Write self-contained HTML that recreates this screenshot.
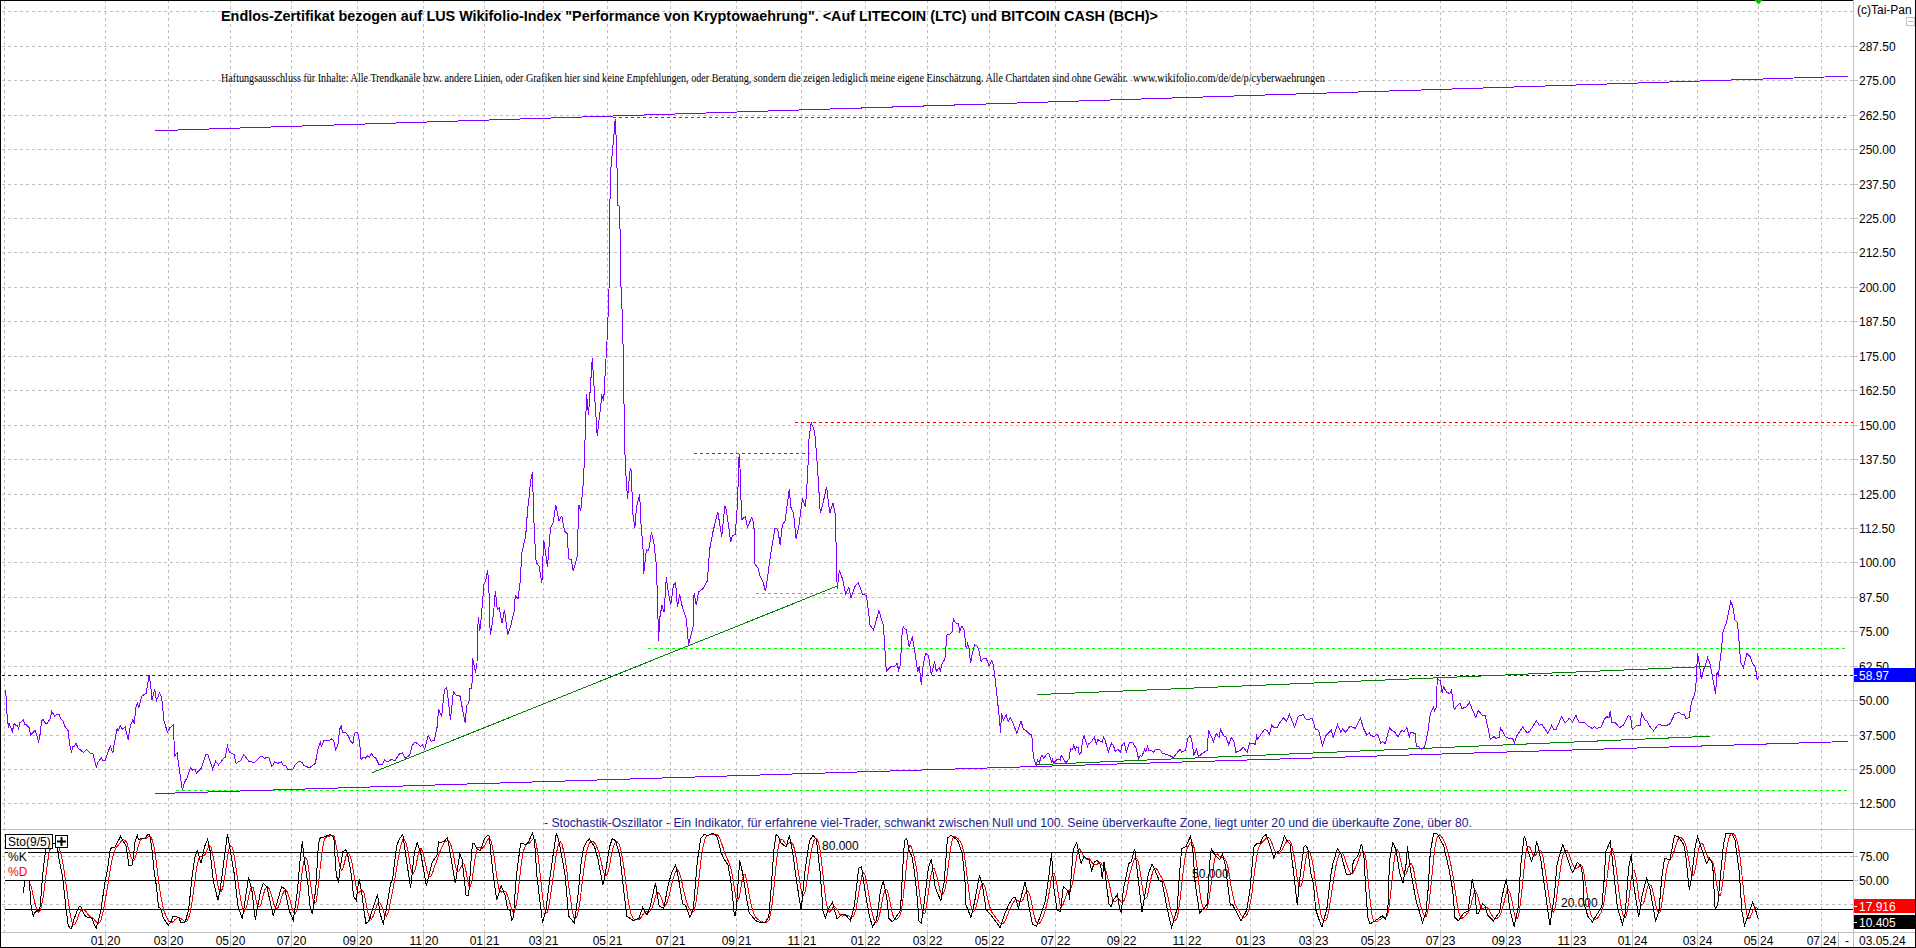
<!DOCTYPE html>
<html><head><meta charset="utf-8"><style>html,body{margin:0;padding:0;background:#fff;overflow:hidden;width:1916px;height:948px}svg{display:block}</style></head>
<body><svg width="1916" height="948" viewBox="0 0 1916 948"><rect x="0" y="0" width="1916" height="948" fill="#fff"/><g stroke="#c0c0c0" stroke-width="1" stroke-dasharray="3 3" shape-rendering="crispEdges"><line x1="4.5" y1="0" x2="4.5" y2="932" /><line x1="105.5" y1="0" x2="105.5" y2="932" /><line x1="168.5" y1="0" x2="168.5" y2="932" /><line x1="230.5" y1="0" x2="230.5" y2="932" /><line x1="291.5" y1="0" x2="291.5" y2="932" /><line x1="357.5" y1="0" x2="357.5" y2="932" /><line x1="423.5" y1="0" x2="423.5" y2="932" /><line x1="484.5" y1="0" x2="484.5" y2="932" /><line x1="543.5" y1="0" x2="543.5" y2="932" /><line x1="607.5" y1="0" x2="607.5" y2="932" /><line x1="670.5" y1="0" x2="670.5" y2="932" /><line x1="736.5" y1="0" x2="736.5" y2="932" /><line x1="801.5" y1="0" x2="801.5" y2="932" /><line x1="865.5" y1="0" x2="865.5" y2="932" /><line x1="927.5" y1="0" x2="927.5" y2="932" /><line x1="989.5" y1="0" x2="989.5" y2="932" /><line x1="1055.5" y1="0" x2="1055.5" y2="932" /><line x1="1121.5" y1="0" x2="1121.5" y2="932" /><line x1="1186.5" y1="0" x2="1186.5" y2="932" /><line x1="1250.5" y1="0" x2="1250.5" y2="932" /><line x1="1313.5" y1="0" x2="1313.5" y2="932" /><line x1="1375.5" y1="0" x2="1375.5" y2="932" /><line x1="1440.5" y1="0" x2="1440.5" y2="932" /><line x1="1506.5" y1="0" x2="1506.5" y2="932" /><line x1="1571.5" y1="0" x2="1571.5" y2="932" /><line x1="1632.5" y1="0" x2="1632.5" y2="932" /><line x1="1697.5" y1="0" x2="1697.5" y2="932" /><line x1="1758.5" y1="0" x2="1758.5" y2="932" /><line x1="1821.5" y1="0" x2="1821.5" y2="932" /><line x1="2" y1="803.5" x2="1853" y2="803.5" /><line x1="2" y1="769.5" x2="1853" y2="769.5" /><line x1="2" y1="735.5" x2="1853" y2="735.5" /><line x1="2" y1="700.5" x2="1853" y2="700.5" /><line x1="2" y1="666.5" x2="1853" y2="666.5" /><line x1="2" y1="631.5" x2="1853" y2="631.5" /><line x1="2" y1="597.5" x2="1853" y2="597.5" /><line x1="2" y1="562.5" x2="1853" y2="562.5" /><line x1="2" y1="528.5" x2="1853" y2="528.5" /><line x1="2" y1="494.5" x2="1853" y2="494.5" /><line x1="2" y1="459.5" x2="1853" y2="459.5" /><line x1="2" y1="425.5" x2="1853" y2="425.5" /><line x1="2" y1="390.5" x2="1853" y2="390.5" /><line x1="2" y1="356.5" x2="1853" y2="356.5" /><line x1="2" y1="321.5" x2="1853" y2="321.5" /><line x1="2" y1="287.5" x2="1853" y2="287.5" /><line x1="2" y1="252.5" x2="1853" y2="252.5" /><line x1="2" y1="218.5" x2="1853" y2="218.5" /><line x1="2" y1="184.5" x2="1853" y2="184.5" /><line x1="2" y1="149.5" x2="1853" y2="149.5" /><line x1="2" y1="115.5" x2="1853" y2="115.5" /><line x1="2" y1="80.5" x2="1853" y2="80.5" /><line x1="2" y1="46.5" x2="1853" y2="46.5" /><line x1="2" y1="11.5" x2="1853" y2="11.5" /><line x1="2" y1="856.5" x2="1853" y2="856.5" /><line x1="2" y1="904.5" x2="1853" y2="904.5" /></g><g stroke="#c0c0c0" stroke-width="1" shape-rendering="crispEdges"><line x1="1853" y1="803.5" x2="1858" y2="803.5"/><line x1="1853" y1="769.5" x2="1858" y2="769.5"/><line x1="1853" y1="735.5" x2="1858" y2="735.5"/><line x1="1853" y1="700.5" x2="1858" y2="700.5"/><line x1="1853" y1="666.5" x2="1858" y2="666.5"/><line x1="1853" y1="631.5" x2="1858" y2="631.5"/><line x1="1853" y1="597.5" x2="1858" y2="597.5"/><line x1="1853" y1="562.5" x2="1858" y2="562.5"/><line x1="1853" y1="528.5" x2="1858" y2="528.5"/><line x1="1853" y1="494.5" x2="1858" y2="494.5"/><line x1="1853" y1="459.5" x2="1858" y2="459.5"/><line x1="1853" y1="425.5" x2="1858" y2="425.5"/><line x1="1853" y1="390.5" x2="1858" y2="390.5"/><line x1="1853" y1="356.5" x2="1858" y2="356.5"/><line x1="1853" y1="321.5" x2="1858" y2="321.5"/><line x1="1853" y1="287.5" x2="1858" y2="287.5"/><line x1="1853" y1="252.5" x2="1858" y2="252.5"/><line x1="1853" y1="218.5" x2="1858" y2="218.5"/><line x1="1853" y1="184.5" x2="1858" y2="184.5"/><line x1="1853" y1="149.5" x2="1858" y2="149.5"/><line x1="1853" y1="115.5" x2="1858" y2="115.5"/><line x1="1853" y1="80.5" x2="1858" y2="80.5"/><line x1="1853" y1="46.5" x2="1858" y2="46.5"/><line x1="1853" y1="856.5" x2="1858" y2="856.5"/><line x1="1853" y1="880.5" x2="1858" y2="880.5"/><line x1="1853" y1="904.5" x2="1858" y2="904.5"/></g><g stroke="#000" stroke-width="1" shape-rendering="crispEdges"><line x1="5" y1="852.5" x2="1853" y2="852.5"/><line x1="5" y1="880.5" x2="1853" y2="880.5"/><line x1="5" y1="909.5" x2="1853" y2="909.5"/></g><g stroke="#c0c0c0" stroke-width="1" shape-rendering="crispEdges"><line x1="1853.5" y1="0" x2="1853.5" y2="948"/><line x1="0" y1="829.5" x2="1916" y2="829.5"/><line x1="0" y1="932.5" x2="1916" y2="932.5"/><line x1="105.5" y1="932" x2="105.5" y2="947"/><line x1="168.5" y1="932" x2="168.5" y2="947"/><line x1="230.5" y1="932" x2="230.5" y2="947"/><line x1="291.5" y1="932" x2="291.5" y2="947"/><line x1="357.5" y1="932" x2="357.5" y2="947"/><line x1="423.5" y1="932" x2="423.5" y2="947"/><line x1="484.5" y1="932" x2="484.5" y2="947"/><line x1="543.5" y1="932" x2="543.5" y2="947"/><line x1="607.5" y1="932" x2="607.5" y2="947"/><line x1="670.5" y1="932" x2="670.5" y2="947"/><line x1="736.5" y1="932" x2="736.5" y2="947"/><line x1="801.5" y1="932" x2="801.5" y2="947"/><line x1="865.5" y1="932" x2="865.5" y2="947"/><line x1="927.5" y1="932" x2="927.5" y2="947"/><line x1="989.5" y1="932" x2="989.5" y2="947"/><line x1="1055.5" y1="932" x2="1055.5" y2="947"/><line x1="1121.5" y1="932" x2="1121.5" y2="947"/><line x1="1186.5" y1="932" x2="1186.5" y2="947"/><line x1="1250.5" y1="932" x2="1250.5" y2="947"/><line x1="1313.5" y1="932" x2="1313.5" y2="947"/><line x1="1375.5" y1="932" x2="1375.5" y2="947"/><line x1="1440.5" y1="932" x2="1440.5" y2="947"/><line x1="1506.5" y1="932" x2="1506.5" y2="947"/><line x1="1571.5" y1="932" x2="1571.5" y2="947"/><line x1="1632.5" y1="932" x2="1632.5" y2="947"/><line x1="1697.5" y1="932" x2="1697.5" y2="947"/><line x1="1758.5" y1="932" x2="1758.5" y2="947"/><line x1="1821.5" y1="932" x2="1821.5" y2="947"/><line x1="1838.5" y1="932" x2="1838.5" y2="947"/><rect x="1906.5" y="17.5" width="8" height="8" fill="none"/><line x1="1908" y1="21.5" x2="1913" y2="21.5"/></g><g stroke="#000" stroke-width="1" shape-rendering="crispEdges"><line x1="0" y1="0.5" x2="1853" y2="0.5"/><line x1="0.5" y1="0" x2="0.5" y2="948"/><line x1="1915.5" y1="0" x2="1915.5" y2="948"/><line x1="0" y1="947.5" x2="1916" y2="947.5"/></g><line x1="2" y1="675.5" x2="1853" y2="675.5" stroke="#0000ff" stroke-width="1" stroke-dasharray="3 3" shape-rendering="crispEdges"/><line x1="613" y1="117.5" x2="1846" y2="117.5" stroke="#ff0000" stroke-width="1" stroke-dasharray="3 3" shape-rendering="crispEdges"/><line x1="795" y1="422.5" x2="1853" y2="422.5" stroke="#ff0000" stroke-width="1" stroke-dasharray="3 3" shape-rendering="crispEdges"/><line x1="694" y1="453.5" x2="810" y2="453.5" stroke="#ff0000" stroke-width="1" stroke-dasharray="3 3" shape-rendering="crispEdges"/><line x1="648" y1="648.5" x2="1846" y2="648.5" stroke="#00ff00" stroke-width="1" stroke-dasharray="3 3" shape-rendering="crispEdges"/><line x1="176" y1="790.5" x2="1848" y2="790.5" stroke="#00ff00" stroke-width="1" stroke-dasharray="3 3" shape-rendering="crispEdges"/><line x1="756" y1="593.5" x2="867" y2="593.5" stroke="#00ff00" stroke-width="1" stroke-dasharray="3 3" shape-rendering="crispEdges"/><line x1="155" y1="130.75" x2="1848" y2="76.25" stroke="#8000ff" stroke-width="1" shape-rendering="crispEdges"/><line x1="155" y1="793.63" x2="1848" y2="741.5" stroke="#8000ff" stroke-width="1" shape-rendering="crispEdges"/><line x1="372.4" y1="772.6" x2="837.8" y2="585.8" stroke="#008000" stroke-width="1" shape-rendering="crispEdges"/><line x1="1037" y1="694.6" x2="1710" y2="666.4" stroke="#008000" stroke-width="1" shape-rendering="crispEdges"/><line x1="1037" y1="764.66" x2="1710" y2="736.26" stroke="#008000" stroke-width="1" shape-rendering="crispEdges"/><polyline points="5.2,689.9 6.2,697.5 6.6,708.9 7.6,720.8 8.4,727.5 9.0,723.2 12.3,731.3 14.2,723.7 15.7,725.1 17.6,725.1 18.5,729.4 19.9,722.7 23.3,719.9 24.7,724.6 26.1,724.6 29.4,727.9 30.4,735.1 35.1,730.3 36.6,734.1 38.5,742.6 39.9,735.5 40.8,727.5 41.8,720.8 43.2,719.4 45.6,723.4 47.5,723.2 50.3,718.4 51.8,711.3 54.6,716.1 57.0,714.2 59.4,714.6 60.3,718.4 62.7,720.3 64.6,726.0 67.4,729.4 68.4,731.3 69.3,743.1 71.7,752.6 72.4,746.0 74.5,746.0 76.0,743.1 78.3,748.3 83.6,752.6 86.4,749.3 90.2,753.1 93.0,753.8 96.2,767.1 98.1,761.9 101.5,757.5 102.6,760.4 105.5,760.1 107.7,752.3 110.4,746.4 112.9,753.1 114.4,742.7 117.3,727.9 118.1,730.9 120.3,725.7 122.5,729.4 125.2,727.2 128.1,739.8 130.6,725.0 132.8,719.8 134.3,723.5 135.8,708.0 137.6,702.8 138.7,708.0 141.7,696.2 143.9,694.7 146.1,693.2 146.9,688.8 149.1,675.5 150.6,685.1 152.0,699.9 154.7,689.5 156.5,700.6 159.4,693.2 161.6,696.9 163.9,720.6 167.5,732.4 169.8,727.9 173.5,724.3 174.5,756.0 177.1,753.1 179.4,769.3 182.3,790.0 184.5,782.6 187.5,776.7 190.4,767.8 192.7,770.0 194.9,769.3 196.4,773.0 201.5,767.8 206.0,753.8 208.2,755.3 212.6,769.3 215.6,761.2 218.5,764.9 223.7,758.2 225.2,757.5 227.4,745.7 229.6,752.3 234.0,754.5 236.2,763.4 240.7,760.4 243.6,754.5 248.8,761.2 254.0,762.7 261.3,756.0 264.3,758.2 268.7,757.5 272.0,766.4 274.6,761.9 277.6,763.4 281.3,761.9 283.5,765.6 285.7,765.6 287.9,769.3 293.1,769.2 294.6,765.6 299.0,761.1 302.0,762.6 304.2,765.6 309.4,767.8 315.3,763.3 318.2,747.8 320.5,741.9 321.2,746.4 324.1,740.4 329.3,740.4 331.5,739.0 333.7,740.4 335.5,750.0 337.9,744.9 339.7,729.4 341.1,725.4 342.6,732.3 345.6,732.3 348.5,736.0 350.0,740.4 352.9,743.4 354.4,733.1 357.7,732.8 359.6,741.9 361.1,759.6 363.3,757.4 365.5,758.2 367.7,756.0 369.2,757.4 371.4,753.7 373.6,756.7 375.8,758.2 378.8,764.1 382.5,764.1 384.7,759.6 386.9,761.9 391.4,759.6 395.0,760.4 399.5,753.7 402.4,753.0 405.4,758.2 409.8,755.2 412.0,745.6 415.0,741.9 418.0,744.1 420.2,746.4 422.4,744.9 424.6,749.3 428.3,735.3 431.2,741.2 434.2,740.4 437.1,727.1 438.6,709.4 441.6,716.8 444.5,689.5 446.7,687.3 448.2,699.1 450.4,719.8 453.4,691.7 456.3,695.4 460.0,696.1 462.3,707.9 465.2,722.7 466.7,705.0 468.9,703.5 469.6,688.7 471.9,688.0 472.6,657.7 475.5,672.5 477.0,663.6 477.3,639.3 478.3,617.5 479.8,630.8 481.1,619.4 483.0,596.6 484.0,584.3 485.9,579.5 487.4,570.1 488.7,581.4 490.2,634.6 491.6,628.9 493.5,613.7 495.4,590.9 497.3,609.9 499.2,608.0 502.0,623.2 504.5,609.9 507.7,634.6 510.5,627.0 514.0,611.8 515.3,595.7 518.1,598.5 520.0,583.3 521.9,553.0 522.9,548.2 525.7,535.9 527.6,509.3 529.5,494.2 530.5,480.9 532.4,472.3 534.3,532.1 536.2,562.5 539.0,566.3 541.9,583.3 543.7,539.7 547.5,567.2 550.4,528.3 553.2,522.6 555.7,504.6 558.9,520.7 561.8,516.0 564.6,531.2 567.5,534.0 568.4,558.7 571.3,559.6 573.2,571.0 577.0,557.7 578.9,504.6 580.7,511.2 583.6,479.9 586.6,394.3 588.5,415.2 592.3,358.3 597.2,436.1 601.8,396.2 603.7,400.0 607.5,331.7 609.0,290.0 609.5,241.1 610.3,174.6 611.4,163.2 612.2,153.7 613.3,142.3 614.7,126.2 615.2,118.6 616.0,134.7 617.1,170.8 617.5,205.0 619.0,206.0 619.4,224.0 620.4,232.6 620.9,284.8 622.7,324.1 624.6,440.0 625.3,465.5 627.5,498.8 629.8,472.2 630.9,467.7 633.1,516.5 634.9,527.6 636.4,507.6 639.7,494.3 640.8,521.0 643.1,549.8 643.7,574.2 646.4,549.8 648.6,550.9 651.5,532.0 654.2,545.3 656.4,565.3 657.5,600.8 658.6,640.7 659.7,618.5 661.9,605.2 664.1,611.9 666.3,577.5 668.6,594.1 670.8,605.2 673.4,585.3 675.7,583.0 677.4,607.4 679.6,594.1 681.9,605.2 686.3,618.5 688.5,645.1 693.0,627.4 694.1,593.0 696.3,605.2 698.5,591.9 702.9,588.6 707.4,580.8 709.6,549.8 712.9,532.0 717.8,512.1 721.8,536.5 724.8,506.0 726.4,510.2 730.7,541.9 732.3,535.5 735.3,534.5 737.4,504.9 739.1,454.3 740.2,471.2 741.6,519.7 745.4,516.5 747.5,527.1 751.8,517.6 753.9,523.9 754.9,564.0 758.1,568.2 760.2,576.7 763.4,583.0 765.5,591.4 767.6,576.7 770.7,553.5 775.0,528.1 777.7,529.2 780.2,545.0 782.3,525.0 785.1,520.8 789.3,489.1 790.8,507.0 793.5,513.4 796.1,538.7 799.2,523.9 802.4,498.6 805.5,507.0 807.7,473.3 809.1,437.4 811.2,422.7 814.6,431.1 817.2,462.7 820.3,513.4 823.5,500.7 826.6,487.0 829.8,513.4 833.0,502.8 835.1,513.4 836.1,545.0 837.2,589.3 839.3,570.3 842.5,578.8 845.6,593.5 848.8,587.2 850.9,597.8 855.1,586.2 858.3,582.7 862.7,594.5 866.5,595.4 870.1,625.5 873.6,629.9 878.9,610.7 883.4,625.5 886.3,671.3 890.7,666.8 895.0,666.3 897.1,663.4 898.6,670.2 900.0,666.3 901.0,653.4 901.8,636.3 903.3,626.4 904.3,628.5 906.4,629.9 909.2,647.0 911.4,639.2 912.4,637.5 914.9,652.0 917.8,672.0 919.2,666.3 921.4,684.8 922.8,667.7 925.6,653.4 928.5,655.6 931.3,674.8 934.6,661.3 936.3,671.2 939.2,667.7 940.3,670.5 942.0,664.1 944.9,659.1 947.0,634.9 949.1,634.9 952.0,632.1 953.4,618.5 955.5,622.8 958.4,623.5 959.8,631.4 962.0,625.7 964.1,629.9 966.2,648.4 967.6,643.5 969.1,648.4 970.5,663.4 972.6,652.0 974.8,644.9 976.9,645.6 979.0,650.6 981.2,662.0 982.6,659.1 986.2,658.4 989.0,665.5 991.9,660.6 993.3,664.8 994.7,674.8 999.8,722.0 1000.4,732.5 1001.6,713.3 1003.3,720.4 1006.1,714.7 1008.2,721.8 1010.4,717.5 1012.5,721.8 1016.8,733.2 1021.1,721.1 1023.2,728.9 1026.1,730.4 1030.0,734.4 1031.5,734.4 1032.3,739.9 1032.6,751.5 1033.5,752.7 1033.8,758.8 1036.4,766.0 1037.3,760.2 1038.1,762.0 1039.0,761.4 1039.6,763.4 1040.4,757.9 1041.6,755.6 1042.5,755.6 1043.6,758.2 1047.7,753.3 1048.9,753.6 1051.8,762.6 1052.6,759.4 1053.8,762.9 1057.6,759.1 1060.2,760.0 1061.3,755.3 1064.8,761.4 1066.3,762.6 1069.4,758.2 1070.3,748.4 1072.6,749.8 1073.5,745.5 1075.5,749.8 1076.4,746.3 1078.1,747.8 1079.3,754.4 1081.3,752.1 1082.5,740.8 1084.2,735.3 1084.8,738.2 1087.4,746.6 1088.6,743.4 1090.6,742.8 1094.4,737.3 1096.4,744.6 1097.6,739.4 1100.5,741.4 1102.5,742.3 1103.4,737.0 1105.4,741.1 1108.3,752.4 1111.5,743.1 1113.2,745.2 1115.3,751.3 1117.6,749.2 1120.5,752.1 1121.9,745.7 1124.3,742.6 1126.3,752.4 1129.5,742.3 1132.7,742.3 1134.4,746.3 1135.6,746.6 1138.5,758.5 1140.1,755.6 1142.0,756.2 1144.6,749.2 1145.8,751.8 1147.5,746.5 1148.7,750.5 1151.5,750.5 1153.4,752.2 1155.9,749.2 1159.7,749.2 1162.3,753.4 1168.0,754.9 1173.7,757.5 1176.2,753.7 1180.0,749.2 1181.9,752.2 1185.7,749.9 1187.6,738.5 1190.1,735.3 1192.0,741.6 1193.9,754.9 1196.5,749.2 1198.4,756.8 1202.8,753.0 1207.2,750.5 1208.5,730.3 1213.5,741.6 1216.1,733.4 1219.2,737.2 1220.5,729.4 1223.7,736.0 1226.2,737.2 1228.7,744.6 1231.3,737.2 1234.4,742.3 1235.7,752.4 1240.1,750.5 1243.3,747.3 1247.1,752.4 1249.6,742.9 1255.3,744.2 1256.6,735.9 1257.8,739.1 1264.2,729.6 1267.3,730.3 1269.2,734.7 1271.8,725.2 1274.3,727.7 1277.5,727.1 1280.6,721.4 1283.8,717.6 1286.3,721.4 1289.5,714.4 1294.6,727.1 1298.4,716.3 1303.4,714.4 1305.3,718.9 1308.5,719.5 1312.3,718.2 1315.4,729.0 1318.6,730.3 1322.4,745.4 1325.6,736.0 1331.3,730.3 1333.2,737.2 1337.6,724.6 1340.8,732.2 1342.7,729.0 1345.8,732.2 1349.6,726.5 1352.8,727.1 1355.3,728.4 1360.4,718.2 1363.5,728.4 1366.9,735.3 1369.4,732.8 1370.7,735.3 1373.9,736.6 1377.0,734.4 1378.3,735.9 1380.8,742.9 1382.7,741.6 1385.3,743.5 1387.8,733.4 1389.7,727.7 1391.6,730.3 1394.7,732.2 1397.9,736.6 1401.7,730.3 1404.2,731.5 1406.8,727.7 1409.3,736.6 1410.6,732.2 1415.0,733.4 1416.3,746.1 1418.2,746.1 1421.3,749.2 1424.5,747.3 1427.7,733.4 1430.2,714.4 1431.5,710.6 1433.4,707.5 1434.6,710.6 1436.5,706.8 1437.2,678.4 1440.3,680.9 1442.2,692.9 1443.5,686.6 1446.6,692.3 1449.8,693.5 1451.5,690.4 1454.2,709.4 1458.0,704.9 1459.9,703.0 1461.8,708.7 1466.3,706.8 1469.4,702.4 1472.6,710.0 1475.8,717.6 1478.3,710.6 1482.1,715.1 1485.3,715.7 1490.3,739.1 1494.1,736.6 1496.0,738.5 1499.2,737.2 1500.4,727.7 1505.5,736.6 1509.3,738.5 1513.1,739.1 1514.4,743.5 1516.3,736.6 1522.6,727.1 1527.0,732.8 1529.6,731.5 1536.5,720.8 1539.1,725.2 1542.2,724.6 1547.9,733.4 1551.7,725.2 1553.6,729.4 1556.1,729.4 1561.8,716.3 1565.0,723.3 1569.4,718.2 1572.6,722.0 1575.8,715.1 1578.9,722.0 1584.0,722.0 1587.8,725.8 1592.2,728.4 1594.7,726.5 1596.6,728.4 1601.3,726.8 1604.5,718.9 1606.9,716.5 1608.9,718.1 1610.3,711.0 1611.6,722.1 1615.6,722.9 1619.5,727.6 1623.5,725.2 1628.2,715.8 1630.6,716.5 1632.2,729.2 1634.5,727.6 1636.9,725.2 1640.1,725.2 1641.7,713.4 1644.8,719.7 1647.2,721.3 1649.6,726.0 1653.5,730.8 1658.3,724.5 1665.4,726.0 1670.1,723.7 1674.9,713.4 1679.6,712.6 1682.0,715.0 1684.4,714.2 1686.0,718.9 1689.1,717.3 1691.5,702.3 1694.7,694.4 1696.2,681.7 1697.5,653.3 1699.4,664.3 1701.3,679.4 1703.8,669.1 1705.7,664.3 1707.6,657.7 1710.2,664.3 1712.8,678.6 1715.5,693.6 1717.1,672.3 1718.4,675.4 1721.5,648.5 1723.1,631.1 1726.3,623.2 1730.7,601.4 1732.6,605.8 1735.0,620.1 1737.4,622.4 1739.7,648.5 1740.5,662.0 1743.4,667.5 1746.9,653.3 1750.0,656.4 1752.4,662.8 1755.6,668.3 1757.1,680.2 1758.7,676.2" fill="none" stroke="#8000ff" stroke-width="1" shape-rendering="crispEdges"/><polyline points="29.5,883.7 31.0,885.9 32.5,892.5 34.0,899.2 35.5,905.5 37.0,911.0 38.5,912.1 40.0,910.9 41.5,906.0 43.0,898.0 44.5,887.6 46.0,875.1 47.5,862.7 49.0,853.4 50.5,847.8 52.0,844.6 53.5,843.7 55.0,843.5 56.5,843.8 58.0,845.4 59.5,849.0 61.0,854.1 62.5,860.7 64.0,869.7 65.5,880.2 67.0,891.2 68.5,902.5 70.0,912.8 71.5,920.4 73.0,924.2 74.5,924.5 76.0,922.2 77.5,918.6 79.0,914.4 80.5,911.2 82.0,909.4 83.5,909.3 85.0,910.3 86.5,912.3 88.0,914.4 89.5,916.1 91.0,917.1 92.5,917.8 94.0,919.2 95.5,921.1 97.0,922.7 98.5,923.1 100.0,922.1 101.5,918.4 103.0,912.2 104.5,904.2 106.0,895.6 107.5,886.8 109.0,877.3 110.5,868.0 112.0,860.4 113.5,854.4 115.0,849.9 116.5,847.0 118.0,845.5 119.5,843.7 121.0,841.6 122.5,840.2 124.0,839.8 125.5,840.6 127.0,843.3 128.5,848.4 130.0,853.6 131.5,858.1 133.0,860.9 134.5,859.8 136.0,855.1 137.5,849.1 139.0,843.9 140.5,839.9 142.0,838.3 143.5,838.3 145.0,838.7 146.5,838.1 148.0,837.1 149.5,836.3 151.0,837.2 152.5,840.6 154.0,847.3 155.5,856.5 157.0,867.9 158.5,880.6 160.0,891.2 161.5,899.5 163.0,906.9 164.5,912.5 166.0,915.6 167.5,918.8 169.0,921.4 170.5,922.4 172.0,922.4 173.5,921.3 175.0,919.7 176.5,918.3 178.0,917.3 179.5,917.3 181.0,918.7 182.5,919.8 184.0,920.9 185.5,921.7 187.0,921.0 188.5,918.3 190.0,913.2 191.5,905.1 193.0,894.8 194.5,883.6 196.0,872.5 197.5,863.4 199.0,858.3 200.5,856.5 202.0,856.3 203.5,855.8 205.0,854.7 206.5,851.8 208.0,847.7 209.5,845.6 211.0,847.2 212.5,852.8 214.0,861.3 215.5,871.1 217.0,880.8 218.5,888.4 220.0,891.9 221.5,891.0 223.0,886.5 224.5,878.5 226.0,867.9 227.5,856.6 229.0,849.3 230.5,846.0 232.0,846.9 233.5,851.9 235.0,860.9 236.5,870.9 238.0,881.8 239.5,891.8 241.0,900.8 242.5,908.5 244.0,911.4 245.5,909.7 247.0,905.1 248.5,897.7 250.0,890.7 251.5,887.0 253.0,887.5 254.5,892.5 256.0,900.1 257.5,905.1 259.0,907.3 260.5,905.7 262.0,900.5 263.5,894.1 265.0,889.6 266.5,887.0 268.0,886.9 269.5,889.3 271.0,893.7 272.5,899.1 274.0,904.4 275.5,907.6 277.0,908.4 278.5,906.8 280.0,902.7 281.5,897.5 283.0,893.5 284.5,890.6 286.0,890.1 287.5,892.2 289.0,896.8 290.5,901.9 292.0,907.7 293.5,912.5 295.0,913.6 296.5,911.1 298.0,905.2 299.5,895.1 301.0,881.9 302.5,868.9 304.0,860.8 305.5,857.6 307.0,859.8 308.5,867.3 310.0,879.9 311.5,890.8 313.0,898.9 314.5,903.2 316.0,902.1 317.5,892.9 319.0,879.1 320.5,865.0 322.0,852.6 323.5,843.1 325.0,838.3 326.5,837.1 328.0,836.6 329.5,836.0 331.0,835.6 332.5,835.5 334.0,836.3 335.5,841.8 337.0,850.4 338.5,859.9 340.0,866.5 341.5,870.4 343.0,868.1 344.5,862.7 346.0,856.2 347.5,853.2 349.0,853.6 350.5,857.3 352.0,863.3 353.5,872.3 355.0,881.3 356.5,888.8 358.0,892.0 359.5,892.1 361.0,890.7 362.5,890.9 364.0,893.1 365.5,900.0 367.0,908.4 368.5,915.0 370.0,918.6 371.5,919.1 373.0,916.6 374.5,912.8 376.0,908.4 377.5,903.8 379.0,902.4 380.5,903.7 382.0,906.9 383.5,911.5 385.0,915.6 386.5,916.0 388.0,912.8 389.5,906.8 391.0,898.9 392.5,891.6 394.0,883.5 395.5,874.8 397.0,865.8 398.5,857.5 400.0,849.4 401.5,843.1 403.0,839.2 404.5,839.6 406.0,842.7 407.5,848.5 409.0,856.7 410.5,867.0 412.0,872.6 413.5,873.4 415.0,869.9 416.5,863.5 418.0,855.0 419.5,849.9 421.0,848.6 422.5,851.3 424.0,856.7 425.5,864.1 427.0,870.9 428.5,875.5 430.0,877.1 431.5,875.6 433.0,871.5 434.5,866.6 436.0,862.6 437.5,858.6 439.0,853.9 440.5,850.3 442.0,846.9 443.5,843.9 445.0,841.7 446.5,841.1 448.0,840.7 449.5,842.1 451.0,845.4 452.5,850.6 454.0,858.0 455.5,866.4 457.0,870.9 458.5,871.8 460.0,869.2 461.5,865.7 463.0,863.0 464.5,864.9 466.0,871.5 467.5,879.6 469.0,886.2 470.5,886.2 472.0,879.8 473.5,869.5 475.0,859.5 476.5,851.0 478.0,847.2 479.5,847.3 481.0,848.3 482.5,848.2 484.0,846.5 485.5,844.1 487.0,841.3 488.5,838.7 490.0,838.6 491.5,842.5 493.0,849.5 494.5,859.3 496.0,871.1 497.5,881.8 499.0,888.5 500.5,891.6 502.0,892.2 503.5,891.4 505.0,890.9 506.5,893.0 508.0,897.3 509.5,901.8 511.0,906.8 512.5,911.5 514.0,912.7 515.5,908.2 517.0,900.4 518.5,889.0 520.0,874.9 521.5,861.8 523.0,853.1 524.5,847.8 526.0,844.8 527.5,843.8 529.0,843.3 530.5,842.0 532.0,839.9 533.5,838.5 535.0,839.4 536.5,845.2 538.0,854.8 539.5,867.6 541.0,882.2 542.5,897.2 544.0,906.6 545.5,911.9 547.0,912.6 548.5,908.4 550.0,899.3 551.5,889.2 553.0,877.9 554.5,866.8 556.0,856.1 557.5,847.9 559.0,843.0 560.5,841.9 562.0,844.3 563.5,850.4 565.0,858.1 566.5,868.0 568.0,879.7 569.5,891.6 571.0,902.3 572.5,911.5 574.0,917.7 575.5,918.8 577.0,916.1 578.5,910.3 580.0,900.9 581.5,888.5 583.0,875.8 584.5,864.3 586.0,854.8 587.5,848.1 589.0,843.9 590.5,842.0 592.0,841.3 593.5,841.8 595.0,843.4 596.5,846.2 598.0,849.9 599.5,854.8 601.0,860.8 602.5,867.8 604.0,873.1 605.5,875.7 607.0,874.7 608.5,870.3 610.0,862.7 611.5,854.9 613.0,848.3 614.5,843.8 616.0,841.5 617.5,841.9 619.0,844.3 620.5,848.7 622.0,855.6 623.5,864.9 625.0,875.5 626.5,887.5 628.0,898.8 629.5,907.4 631.0,913.6 632.5,917.4 634.0,919.0 635.5,919.5 637.0,919.7 638.5,919.6 640.0,918.7 641.5,916.7 643.0,914.4 644.5,912.7 646.0,911.7 647.5,911.4 649.0,911.3 650.5,910.7 652.0,908.2 653.5,903.8 655.0,898.0 656.5,893.9 658.0,892.5 659.5,894.1 661.0,897.2 662.5,901.9 664.0,905.4 665.5,905.5 667.0,902.5 668.5,897.8 670.0,891.9 671.5,885.2 673.0,879.3 674.5,874.5 676.0,871.1 677.5,870.1 679.0,871.8 680.5,875.9 682.0,882.5 683.5,890.0 685.0,896.2 686.5,901.5 688.0,905.7 689.5,909.0 691.0,911.1 692.5,912.3 694.0,911.0 695.5,905.2 697.0,895.0 698.5,882.7 700.0,869.1 701.5,856.4 703.0,846.9 704.5,840.7 706.0,837.0 707.5,835.6 709.0,835.1 710.5,834.8 712.0,834.6 713.5,834.4 715.0,834.2 716.5,834.3 718.0,835.5 719.5,838.1 721.0,841.7 722.5,845.9 724.0,850.6 725.5,854.8 727.0,858.3 728.5,861.5 730.0,865.6 731.5,871.2 733.0,879.1 734.5,889.3 736.0,897.9 737.5,901.0 739.0,897.6 740.5,890.2 742.0,881.5 743.5,875.0 745.0,874.3 746.5,879.8 748.0,888.3 749.5,896.9 751.0,904.1 752.5,909.8 754.0,914.0 755.5,916.8 757.0,918.4 758.5,919.8 760.0,920.9 761.5,921.6 763.0,922.1 764.5,922.3 766.0,922.3 767.5,921.5 769.0,919.8 770.5,914.5 772.0,905.3 773.5,892.0 775.0,876.6 776.5,860.8 778.0,848.9 779.5,841.5 781.0,839.1 782.5,839.6 784.0,841.6 785.5,843.7 787.0,844.5 788.5,843.6 790.0,842.5 791.5,842.8 793.0,844.5 794.5,849.0 796.0,856.6 797.5,866.4 799.0,876.4 800.5,886.5 802.0,893.6 803.5,895.4 805.0,892.2 806.5,885.0 808.0,873.8 809.5,861.8 811.0,852.3 812.5,845.3 814.0,840.5 815.5,838.2 817.0,838.9 818.5,842.8 820.0,849.8 821.5,860.6 823.0,875.1 824.5,889.2 826.0,900.7 827.5,908.8 829.0,912.3 830.5,911.3 832.0,908.8 833.5,906.8 835.0,906.8 836.5,908.7 838.0,911.2 839.5,913.9 841.0,915.7 842.5,916.2 844.0,915.7 845.5,915.0 847.0,915.0 848.5,915.7 850.0,916.9 851.5,917.4 853.0,916.7 854.5,914.2 856.0,908.9 857.5,900.5 859.0,890.8 860.5,882.0 862.0,875.1 863.5,872.8 865.0,875.2 866.5,881.6 868.0,889.8 869.5,899.1 871.0,907.3 872.5,914.5 874.0,919.4 875.5,922.1 877.0,922.1 878.5,918.9 880.0,912.6 881.5,905.1 883.0,897.2 884.5,891.2 886.0,888.9 887.5,891.0 889.0,897.3 890.5,904.9 892.0,911.9 893.5,917.2 895.0,919.9 896.5,919.4 898.0,918.3 899.5,916.3 901.0,912.4 902.5,903.2 904.0,889.6 905.5,874.7 907.0,860.3 908.5,849.7 910.0,845.6 911.5,847.0 913.0,851.7 914.5,858.2 916.0,865.8 917.5,875.5 919.0,888.6 920.5,900.4 922.0,909.6 923.5,913.8 925.0,912.9 926.5,905.5 928.0,895.3 929.5,884.6 931.0,875.1 932.5,869.5 934.0,868.5 935.5,871.8 937.0,877.3 938.5,884.3 940.0,890.5 941.5,894.1 943.0,894.2 944.5,891.4 946.0,883.9 947.5,871.8 949.0,859.8 950.5,849.2 952.0,840.9 953.5,836.8 955.0,836.8 956.5,837.4 958.0,838.5 959.5,840.4 961.0,842.9 962.5,846.5 964.0,852.7 965.5,863.1 967.0,875.6 968.5,887.9 970.0,899.6 971.5,908.5 973.0,911.6 974.5,910.5 976.0,907.1 977.5,901.3 979.0,893.8 980.5,887.8 982.0,884.0 983.5,883.6 985.0,886.9 986.5,893.4 988.0,900.0 989.5,906.0 991.0,910.5 992.5,913.5 994.0,915.3 995.5,917.2 997.0,919.2 998.5,921.2 1000.0,923.3 1001.5,924.1 1003.0,923.7 1004.5,922.0 1006.0,919.1 1007.5,915.1 1009.0,911.3 1010.5,907.8 1012.0,904.7 1013.5,902.1 1015.0,900.1 1016.5,899.6 1018.0,900.6 1019.5,901.6 1021.0,901.6 1022.5,900.5 1024.0,897.4 1025.5,892.7 1027.0,890.6 1028.5,891.8 1030.0,895.9 1031.5,902.6 1033.0,910.7 1034.5,917.0 1036.0,921.5 1037.5,923.7 1039.0,923.8 1040.5,922.0 1042.0,919.3 1043.5,915.4 1045.0,911.1 1046.5,905.7 1048.0,899.0 1049.5,890.9 1051.0,881.1 1052.5,874.3 1054.0,873.5 1055.5,876.9 1057.0,884.7 1058.5,895.4 1060.0,904.0 1061.5,906.8 1063.0,904.6 1064.5,900.1 1066.0,895.8 1067.5,891.7 1069.0,890.2 1070.5,889.5 1072.0,885.2 1073.5,877.1 1075.0,868.1 1076.5,857.8 1078.0,850.5 1079.5,848.5 1081.0,851.4 1082.5,854.2 1084.0,857.0 1085.5,858.7 1087.0,859.2 1088.5,858.5 1090.0,859.3 1091.5,862.0 1093.0,863.8 1094.5,864.4 1096.0,864.6 1097.5,864.0 1099.0,862.5 1100.5,862.1 1102.0,865.2 1103.5,866.4 1105.0,868.5 1106.5,872.9 1108.0,879.2 1109.5,884.8 1111.0,892.7 1112.5,898.9 1114.0,901.8 1115.5,901.9 1117.0,900.0 1118.5,899.0 1120.0,900.5 1121.5,902.8 1123.0,902.0 1124.5,899.8 1126.0,895.0 1127.5,887.0 1129.0,877.5 1130.5,871.4 1132.0,866.4 1133.5,861.6 1135.0,857.9 1136.5,858.1 1138.0,861.1 1139.5,867.4 1141.0,877.3 1142.5,888.8 1144.0,895.9 1145.5,898.5 1147.0,896.8 1148.5,890.9 1150.0,883.1 1151.5,876.2 1153.0,871.2 1154.5,868.7 1156.0,868.4 1157.5,869.8 1159.0,872.7 1160.5,875.7 1162.0,878.3 1163.5,881.6 1165.0,885.8 1166.5,890.9 1168.0,897.1 1169.5,904.5 1171.0,911.7 1172.5,917.1 1174.0,919.9 1175.5,920.3 1177.0,918.4 1178.5,911.2 1180.0,899.9 1181.5,886.3 1183.0,873.0 1184.5,860.6 1186.0,852.2 1187.5,847.2 1189.0,844.9 1190.5,842.5 1192.0,842.1 1193.5,844.8 1195.0,852.5 1196.5,863.0 1198.0,876.2 1199.5,889.6 1201.0,899.9 1202.5,905.6 1204.0,908.7 1205.5,909.5 1207.0,907.9 1208.5,902.4 1210.0,892.5 1211.5,880.8 1213.0,869.9 1214.5,859.8 1216.0,854.3 1217.5,853.8 1219.0,855.8 1220.5,857.1 1222.0,857.2 1223.5,857.5 1225.0,858.7 1226.5,861.8 1228.0,867.5 1229.5,876.2 1231.0,885.7 1232.5,893.9 1234.0,900.4 1235.5,905.2 1237.0,908.1 1238.5,910.3 1240.0,913.1 1241.5,915.6 1243.0,916.9 1244.5,917.2 1246.0,916.3 1247.5,913.5 1249.0,908.7 1250.5,902.1 1252.0,892.7 1253.5,880.4 1255.0,868.6 1256.5,858.2 1258.0,850.1 1259.5,845.4 1261.0,843.7 1262.5,842.2 1264.0,840.6 1265.5,838.9 1267.0,837.6 1268.5,837.6 1270.0,839.2 1271.5,842.1 1273.0,846.2 1274.5,850.0 1276.0,852.3 1277.5,853.5 1279.0,853.5 1280.5,852.2 1282.0,849.7 1283.5,846.9 1285.0,843.9 1286.5,841.7 1288.0,840.3 1289.5,840.2 1291.0,842.8 1292.5,848.2 1294.0,855.4 1295.5,865.0 1297.0,876.7 1298.5,884.7 1300.0,887.3 1301.5,885.2 1303.0,878.1 1304.5,866.9 1306.0,857.7 1307.5,852.1 1309.0,850.7 1310.5,854.1 1312.0,860.3 1313.5,867.9 1315.0,878.5 1316.5,889.2 1318.0,898.3 1319.5,906.9 1321.0,915.0 1322.5,919.7 1324.0,921.1 1325.5,920.6 1327.0,917.9 1328.5,912.0 1330.0,903.4 1331.5,893.8 1333.0,883.8 1334.5,873.9 1336.0,865.6 1337.5,859.0 1339.0,854.9 1340.5,852.9 1342.0,852.8 1343.5,854.8 1345.0,859.0 1346.5,863.8 1348.0,868.1 1349.5,871.4 1351.0,873.5 1352.5,873.5 1354.0,870.6 1355.5,867.4 1357.0,863.9 1358.5,859.7 1360.0,855.6 1361.5,852.3 1363.0,850.7 1364.5,852.7 1366.0,860.4 1367.5,873.5 1369.0,888.9 1370.5,903.5 1372.0,914.7 1373.5,920.8 1375.0,922.1 1376.5,921.8 1378.0,920.8 1379.5,919.8 1381.0,918.8 1382.5,917.8 1384.0,917.4 1385.5,917.4 1387.0,916.4 1388.5,911.1 1390.0,899.5 1391.5,885.9 1393.0,870.7 1394.5,857.4 1396.0,849.3 1397.5,849.6 1399.0,853.3 1400.5,859.9 1402.0,866.7 1403.5,872.7 1405.0,875.0 1406.5,873.2 1408.0,868.3 1409.5,864.8 1411.0,863.4 1412.5,865.5 1414.0,871.4 1415.5,880.7 1417.0,888.9 1418.5,896.1 1420.0,902.7 1421.5,908.6 1423.0,913.3 1424.5,916.0 1426.0,916.6 1427.5,913.0 1429.0,904.0 1430.5,889.8 1432.0,875.0 1433.5,859.5 1435.0,847.1 1436.5,839.1 1438.0,836.0 1439.5,835.0 1441.0,836.2 1442.5,838.2 1444.0,840.8 1445.5,844.6 1447.0,849.1 1448.5,854.4 1450.0,860.6 1451.5,867.9 1453.0,875.9 1454.5,886.2 1456.0,896.4 1457.5,905.5 1459.0,912.8 1460.5,917.5 1462.0,918.3 1463.5,917.3 1465.0,915.8 1466.5,914.2 1468.0,912.8 1469.5,909.6 1471.0,904.6 1472.5,898.2 1474.0,893.5 1475.5,891.0 1477.0,893.7 1478.5,898.6 1480.0,904.4 1481.5,908.1 1483.0,909.1 1484.5,907.6 1486.0,906.9 1487.5,907.9 1489.0,909.9 1490.5,912.7 1492.0,915.5 1493.5,917.7 1495.0,918.6 1496.5,918.5 1498.0,917.8 1499.5,916.3 1501.0,912.9 1502.5,908.1 1504.0,902.5 1505.5,896.2 1507.0,890.8 1508.5,889.8 1510.0,892.9 1511.5,898.4 1513.0,906.4 1514.5,914.3 1516.0,918.1 1517.5,918.2 1519.0,913.6 1520.5,903.1 1522.0,889.2 1523.5,874.1 1525.0,859.6 1526.5,849.7 1528.0,846.0 1529.5,846.2 1531.0,849.7 1532.5,853.7 1534.0,856.0 1535.5,855.4 1537.0,852.9 1538.5,850.5 1540.0,850.0 1541.5,851.9 1543.0,857.4 1544.5,866.1 1546.0,876.0 1547.5,886.4 1549.0,897.2 1550.5,906.4 1552.0,911.4 1553.5,912.2 1555.0,908.2 1556.5,898.6 1558.0,886.5 1559.5,875.3 1561.0,865.2 1562.5,856.6 1564.0,852.1 1565.5,850.3 1567.0,850.6 1568.5,852.7 1570.0,856.9 1571.5,861.3 1573.0,865.2 1574.5,867.6 1576.0,868.4 1577.5,867.7 1579.0,866.5 1580.5,865.1 1582.0,865.9 1583.5,871.1 1585.0,880.0 1586.5,889.6 1588.0,899.9 1589.5,909.1 1591.0,914.8 1592.5,917.7 1594.0,919.2 1595.5,919.3 1597.0,918.5 1598.5,916.8 1600.0,914.3 1601.5,911.9 1603.0,907.2 1604.5,899.1 1606.0,886.9 1607.5,874.5 1609.0,862.0 1610.5,852.0 1612.0,848.5 1613.5,852.3 1615.0,859.7 1616.5,870.6 1618.0,883.9 1619.5,895.7 1621.0,905.5 1622.5,913.4 1624.0,917.3 1625.5,917.3 1627.0,912.4 1628.5,902.5 1630.0,889.9 1631.5,877.1 1633.0,870.8 1634.5,870.8 1636.0,876.8 1637.5,886.5 1639.0,898.7 1640.5,904.1 1642.0,905.3 1643.5,903.3 1645.0,898.2 1646.5,890.8 1648.0,886.2 1649.5,884.5 1651.0,885.5 1652.5,889.3 1654.0,896.0 1655.5,903.7 1657.0,909.6 1658.5,913.2 1660.0,912.2 1661.5,906.0 1663.0,895.6 1664.5,883.9 1666.0,873.0 1667.5,865.1 1669.0,860.9 1670.5,858.5 1672.0,856.7 1673.5,853.1 1675.0,848.4 1676.5,843.7 1678.0,839.6 1679.5,837.5 1681.0,837.5 1682.5,838.9 1684.0,841.0 1685.5,844.3 1687.0,850.2 1688.5,858.5 1690.0,867.2 1691.5,873.4 1693.0,875.9 1694.5,872.9 1696.0,865.1 1697.5,855.1 1699.0,847.7 1700.5,843.6 1702.0,843.0 1703.5,845.2 1705.0,849.8 1706.5,854.3 1708.0,857.4 1709.5,859.2 1711.0,860.6 1712.5,861.6 1714.0,866.7 1715.5,876.4 1717.0,885.9 1718.5,893.0 1720.0,896.2 1721.5,891.5 1723.0,879.5 1724.5,866.3 1726.0,853.6 1727.5,844.1 1729.0,837.8 1730.5,834.5 1732.0,833.2 1733.5,833.9 1735.0,835.3 1736.5,839.0 1738.0,844.9 1739.5,853.2 1741.0,865.5 1742.5,880.4 1744.0,894.7 1745.5,906.7 1747.0,915.4 1748.5,918.6 1750.0,917.7 1751.5,914.2 1753.0,910.3 1754.5,907.9 1756.0,907.3 1757.5,908.6" fill="none" stroke="#ff0000" stroke-width="1" shape-rendering="crispEdges"/><polyline points="23.5,893.4 24.6,880.5 29.3,880.5 30.2,894.0 31.3,908.5 33.3,916.4 34.7,912.5 36.9,910.8 39.1,910.2 40.3,906.3 42.5,876.1 44.7,857.1 45.9,848.1 48.0,844.0 52.0,843.0 56.0,844.0 57.6,848.1 58.7,857.1 62.6,877.2 66.0,908.5 68.2,925.3 69.9,928.1 71.6,928.1 73.8,919.7 77.2,910.8 79.4,906.3 81.1,906.9 83.9,914.1 86.1,916.9 89.5,917.5 92.3,918.6 94.5,925.3 96.2,928.1 98.4,920.8 100.7,910.8 105.1,881.7 107.4,870.5 110.2,849.3 111.9,847.6 115.0,847.0 120.6,836.4 126.2,846.4 129.0,866.0 132.3,864.9 135.1,841.4 137.4,835.3 138.5,839.7 141.3,838.6 144.6,838.6 148.0,834.1 149.7,834.7 151.9,849.2 154.1,870.5 156.4,886.1 158.6,907.4 160.8,908.5 163.1,917.4 168.1,925.3 171.5,920.8 173.1,916.3 178.7,917.4 181.0,923.0 185.4,921.9 188.8,908.5 192.1,876.1 194.9,857.1 197.2,850.4 201.1,863.2 204.4,847.0 207.6,839.2 210.0,850.4 213.4,881.7 217.9,900.1 220.1,890.6 225.1,851.5 227.4,834.1 230.1,849.2 234.6,876.1 238.0,906.3 242.4,918.6 245.2,899.5 248.6,877.2 251.9,890.6 255.3,919.7 260.3,892.8 263.1,883.3 267.0,887.3 273.2,915.8 276.0,906.3 281.6,886.7 284.9,888.9 288.8,909.6 293.3,920.2 297.2,892.8 300.0,861.5 302.3,841.4 304.5,861.5 307.9,883.9 310.0,906.3 312.2,913.5 314.5,899.5 316.1,883.9 316.7,873.8 318.4,844.8 320.1,838.1 322.3,837.5 325.7,836.4 330.1,834.5 332.9,836.4 334.0,840.3 336.3,875.0 338.5,882.8 340.2,867.1 343.0,851.5 345.8,849.8 347.5,853.7 351.4,875.0 353.6,896.2 356.4,900.7 357.5,888.9 359.2,879.4 361.4,890.6 363.7,908.5 365.9,923.6 368.7,921.4 372.6,909.6 374.8,902.9 377.6,894.5 379.9,913.0 383.2,923.6 386.0,910.7 390.5,883.9 392.7,878.3 396.6,845.9 399.4,839.2 402.8,834.1 405.0,850.4 410.6,887.8 414.5,851.5 417.3,842.5 420.7,852.6 426.3,886.1 432.4,861.5 436.9,855.9 438.6,842.0 440.8,842.5 444.2,841.4 447.5,837.5 449.7,850.4 455.3,883.3 459.8,853.7 462.0,859.3 466.0,895.1 468.7,895.1 471.5,853.7 472.7,843.7 474.3,843.7 477.1,849.2 480.5,850.4 484.4,838.6 487.8,835.3 489.4,836.4 490.5,850.4 493.9,880.5 496.7,900.1 501.2,885.6 505.0,895.1 507.8,909.6 510.0,910.2 511.7,920.2 513.4,917.4 516.2,877.2 517.9,863.8 520.7,843.1 522.9,843.7 525.7,844.8 528.5,842.0 532.4,833.0 534.6,841.4 536.9,876.1 539.7,899.5 542.5,922.5 545.8,910.7 550.3,875.0 553.1,854.8 556.4,833.0 558.7,840.3 564.8,872.7 568.7,916.3 574.3,923.0 577.7,898.4 581.0,863.8 583.3,848.7 586.6,841.4 589.4,839.2 594.4,846.4 597.8,858.2 602.8,885.0 604.5,878.3 609.5,847.0 612.3,838.6 615.7,840.9 620.1,857.1 623.5,888.4 626.9,916.3 633.6,920.8 639.2,918.0 642.5,907.4 647.0,915.2 650.3,906.3 655.4,882.8 659.3,906.3 663.7,908.5 668.2,885.0 671.6,872.7 675.5,864.9 678.3,877.2 682.7,904.0 685.5,905.1 690.0,917.4 693.4,908.5 697.3,861.5 700.6,838.6 704.5,834.1 707.8,835.8 712.3,833.0 716.8,835.8 721.2,852.6 723.5,858.2 727.9,864.9 730.2,877.2 732.4,894.0 734.1,913.0 735.2,916.3 736.3,909.6 738.0,883.9 739.7,860.4 742.5,872.7 747.0,900.7 749.2,913.0 755.9,920.8 760.4,922.5 765.4,922.5 768.8,916.3 771.5,883.9 773.8,850.4 776.0,834.7 778.3,836.4 780.5,842.5 786.1,847.0 789.4,835.3 792.8,853.7 797.3,886.1 801.2,910.2 804.5,875.0 807.9,850.4 809.6,840.9 812.9,835.3 816.3,839.2 820.2,872.7 823.0,910.7 825.2,918.0 828.6,908.5 832.5,902.3 837.0,919.1 842.0,914.1 845.3,914.6 850.4,920.8 854.3,906.3 858.7,868.2 861.5,866.6 865.5,894.0 869.4,916.3 872.7,926.9 876.6,919.7 880.5,890.6 883.3,881.1 886.7,897.3 888.9,918.6 892.3,921.9 895.0,918.6 900.0,911.3 901.1,899.5 902.8,867.1 904.5,840.9 906.7,838.1 909.0,850.4 911.8,856.0 914.6,872.7 917.4,899.5 919.0,920.8 921.3,923.0 924.6,899.5 928.5,867.1 931.3,859.3 935.2,887.3 940.8,900.7 944.2,881.7 947.5,838.1 950.9,835.3 957.6,840.3 962.1,852.6 964.9,879.4 966.0,905.1 971.0,917.4 974.4,902.9 979.4,875.5 982.2,883.9 986.1,909.6 991.1,915.2 1000.1,927.5 1005.1,913.0 1007.9,906.3 1012.4,898.4 1015.2,897.3 1018.5,908.5 1021.9,894.0 1025.2,881.7 1029.2,908.5 1032.5,924.1 1036.4,926.4 1041.5,913.0 1045.4,900.7 1049.3,872.7 1051.5,853.2 1053.8,887.3 1057.1,910.7 1060.5,911.3 1063.3,886.1 1068.8,892.3 1069.4,899.5 1073.3,849.2 1076.7,842.5 1081.1,863.8 1083.9,856.5 1089.0,859.9 1091.7,871.0 1094.5,861.5 1097.3,860.4 1100.6,864.9 1102.3,879.4 1104.0,862.1 1106.8,887.3 1109.0,904.0 1111.2,906.8 1112.9,900.7 1117.4,894.5 1119.6,908.5 1121.3,913.0 1123.5,887.3 1125.2,881.7 1128.6,863.8 1131.4,861.5 1134.7,848.7 1138.1,878.3 1142.0,911.8 1148.1,875.0 1152.0,863.8 1153.7,867.1 1159.3,880.5 1162.1,881.7 1167.1,908.5 1171.6,927.5 1177.2,908.5 1179.4,875.0 1181.7,848.7 1186.1,846.4 1190.6,835.8 1192.9,851.5 1195.1,882.8 1199.6,913.0 1207.4,904.0 1209.6,863.8 1211.3,848.7 1215.2,855.4 1219.7,859.9 1222.5,853.7 1225.3,864.9 1230.3,905.1 1232.5,904.6 1238.7,916.3 1240.9,920.8 1246.5,910.7 1249.9,890.6 1253.8,847.0 1256.6,843.7 1260.0,843.7 1263.3,836.4 1266.1,834.7 1270.0,845.9 1273.9,858.2 1276.1,852.6 1280.0,850.4 1284.5,835.8 1286.7,840.3 1290.0,844.2 1293.4,870.5 1295.6,890.6 1297.3,905.1 1299.5,880.5 1302.3,859.3 1304.0,847.0 1305.7,845.3 1307.9,849.2 1310.7,872.7 1313.5,883.9 1315.7,909.6 1319.1,919.7 1321.9,926.9 1326.9,908.5 1330.8,875.0 1333.1,862.7 1337.5,848.7 1340.9,853.7 1346.5,875.0 1352.1,873.8 1353.2,861.5 1357.7,855.9 1361.6,843.7 1363.8,854.8 1365.5,883.9 1367.7,917.4 1370.0,924.1 1376.7,919.7 1382.3,915.8 1385.6,919.1 1387.9,908.5 1389.5,860.4 1392.9,842.5 1396.2,850.4 1399.6,872.7 1402.9,883.3 1406.3,862.7 1407.4,846.4 1410.2,868.2 1415.8,899.5 1422.5,922.5 1425.9,913.0 1428.1,889.5 1430.3,851.5 1433.7,833.6 1437.6,834.1 1443.7,845.9 1449.3,870.5 1452.7,890.6 1455.0,917.4 1458.3,920.8 1463.9,913.0 1468.3,910.7 1469.5,899.5 1472.3,879.4 1475.0,892.8 1476.7,913.0 1478.4,913.0 1482.8,903.5 1485.0,906.3 1487.8,915.2 1493.4,920.8 1499.6,911.8 1502.4,895.1 1506.3,878.9 1509.6,908.5 1514.1,926.4 1518.0,908.5 1520.8,864.9 1524.2,836.4 1525.8,840.3 1528.1,851.5 1531.4,861.0 1534.8,853.2 1536.5,841.4 1538.1,845.9 1540.9,860.4 1546.0,897.3 1549.9,925.3 1554.3,896.2 1557.1,863.8 1562.7,844.8 1565.0,850.4 1570.6,868.2 1572.8,872.2 1577.3,862.7 1580.6,864.9 1582.9,877.2 1584.0,904.0 1587.9,916.3 1592.4,921.9 1601.9,906.3 1604.1,880.5 1605.8,851.5 1610.2,841.4 1611.9,854.8 1617.5,908.5 1622.5,924.1 1625.3,913.0 1628.7,867.1 1631.5,854.3 1633.2,881.7 1638.7,917.4 1642.1,895.1 1646.6,878.3 1649.9,888.4 1655.5,920.8 1658.9,911.8 1661.7,878.3 1664.5,858.2 1670.0,859.9 1674.5,835.3 1678.5,836.9 1683.6,844.5 1685.5,853.3 1689.3,890.0 1691.8,876.1 1695.0,848.3 1697.5,836.2 1700.7,845.7 1706.4,863.4 1709.5,858.4 1712.7,864.7 1715.2,910.3 1717.8,904.0 1720.9,871.0 1723.5,844.5 1726.0,833.1 1731.7,833.1 1734.9,839.4 1739.3,872.3 1741.8,910.3 1744.4,925.5 1748.2,915.3 1752.6,902.1 1755.1,908.4 1758.3,919.1" fill="none" stroke="#000" stroke-width="1" shape-rendering="crispEdges"/><g font-family="Liberation Sans, sans-serif" font-size="12" fill="#000"><text x="1859" y="807.5">12.500</text><text x="1859" y="773.5">25.000</text><text x="1859" y="739.5">37.500</text><text x="1859" y="704.5">50.00</text><text x="1859" y="670.5">62.50</text><text x="1859" y="635.5">75.00</text><text x="1859" y="601.5">87.50</text><text x="1859" y="566.5">100.00</text><text x="1859" y="532.5">112.50</text><text x="1859" y="498.5">125.00</text><text x="1859" y="463.5">137.50</text><text x="1859" y="429.5">150.00</text><text x="1859" y="394.5">162.50</text><text x="1859" y="360.5">175.00</text><text x="1859" y="325.5">187.50</text><text x="1859" y="291.5">200.00</text><text x="1859" y="256.5">212.50</text><text x="1859" y="222.5">225.00</text><text x="1859" y="188.5">237.50</text><text x="1859" y="153.5">250.00</text><text x="1859" y="119.5">262.50</text><text x="1859" y="84.5">275.00</text><text x="1859" y="50.5">287.50</text><text x="1859" y="860.5">75.00</text><text x="1859" y="884.5">50.00</text></g><path d="M1754.5 0 L1762.5 0 L1758.5 4.5 Z" fill="#00c000"/><text x="1857" y="14" font-family="Liberation Sans, sans-serif" font-size="12">(c)Tai-Pan</text><g font-family="Liberation Sans, sans-serif" font-size="12" fill="#000"><text x="104" y="945" text-anchor="end">01</text><text x="107" y="945">20</text><text x="167" y="945" text-anchor="end">03</text><text x="170" y="945">20</text><text x="229" y="945" text-anchor="end">05</text><text x="232" y="945">20</text><text x="290" y="945" text-anchor="end">07</text><text x="293" y="945">20</text><text x="356" y="945" text-anchor="end">09</text><text x="359" y="945">20</text><text x="422" y="945" text-anchor="end">11</text><text x="425" y="945">20</text><text x="483" y="945" text-anchor="end">01</text><text x="486" y="945">21</text><text x="542" y="945" text-anchor="end">03</text><text x="545" y="945">21</text><text x="606" y="945" text-anchor="end">05</text><text x="609" y="945">21</text><text x="669" y="945" text-anchor="end">07</text><text x="672" y="945">21</text><text x="735" y="945" text-anchor="end">09</text><text x="738" y="945">21</text><text x="800" y="945" text-anchor="end">11</text><text x="803" y="945">21</text><text x="864" y="945" text-anchor="end">01</text><text x="867" y="945">22</text><text x="926" y="945" text-anchor="end">03</text><text x="929" y="945">22</text><text x="988" y="945" text-anchor="end">05</text><text x="991" y="945">22</text><text x="1054" y="945" text-anchor="end">07</text><text x="1057" y="945">22</text><text x="1120" y="945" text-anchor="end">09</text><text x="1123" y="945">22</text><text x="1185" y="945" text-anchor="end">11</text><text x="1188" y="945">22</text><text x="1249" y="945" text-anchor="end">01</text><text x="1252" y="945">23</text><text x="1312" y="945" text-anchor="end">03</text><text x="1315" y="945">23</text><text x="1374" y="945" text-anchor="end">05</text><text x="1377" y="945">23</text><text x="1439" y="945" text-anchor="end">07</text><text x="1442" y="945">23</text><text x="1505" y="945" text-anchor="end">09</text><text x="1508" y="945">23</text><text x="1570" y="945" text-anchor="end">11</text><text x="1573" y="945">23</text><text x="1631" y="945" text-anchor="end">01</text><text x="1634" y="945">24</text><text x="1696" y="945" text-anchor="end">03</text><text x="1699" y="945">24</text><text x="1757" y="945" text-anchor="end">05</text><text x="1760" y="945">24</text><text x="1820" y="945" text-anchor="end">07</text><text x="1823" y="945">24</text><text x="1845" y="945">-</text><text x="1859" y="945">03.05.24</text></g><text x="221" y="21" font-family="Liberation Sans, sans-serif" font-size="14" font-weight="bold" textLength="937" lengthAdjust="spacingAndGlyphs">Endlos-Zertifikat bezogen auf LUS Wikifolio-Index "Performance von Kryptowaehrung". &lt;Auf LITECOIN (LTC) und BITCOIN CASH (BCH)&gt;</text><text x="221" y="82" font-family="Liberation Serif, serif" font-size="13.3" textLength="907" lengthAdjust="spacingAndGlyphs">Haftungsausschluss für Inhalte: Alle Trendkanäle bzw. andere Linien, oder Grafiken hier sind keine Empfehlungen, oder Beratung, sondern die zeigen lediglich meine eigene Einschätzung. Alle Chartdaten sind ohne Gewähr.</text><text x="1133" y="82" font-family="Liberation Serif, serif" font-size="13.3" textLength="192" lengthAdjust="spacingAndGlyphs">www.wikifolio.com/de/de/p/cyberwaehrungen</text><text x="544" y="827" font-family="Liberation Sans, sans-serif" font-size="12" fill="#1c1c8c" textLength="928" lengthAdjust="spacingAndGlyphs">- Stochastik-Oszillator - Ein Indikator, für erfahrene viel-Trader, schwankt zwischen Null und 100. Seine überverkaufte Zone, liegt unter 20 und die überkaufte Zone, über 80.</text><g font-family="Liberation Sans, sans-serif" font-size="12"><rect x="5.5" y="834.5" width="47" height="14" fill="#fff" stroke="#000"/><text x="8" y="845.5">Sto(9/5)</text><rect x="55.5" y="835.5" width="12" height="12" fill="#fff" stroke="#000"/><path d="M57 841.5h9M61.5 837v9" stroke="#000" stroke-width="2"/><rect x="8" y="851" width="20" height="10" fill="#fff"/><text x="8" y="861">%K</text><text x="8" y="876" fill="#f00">%D</text><text x="822" y="850">80.000</text><text x="1192" y="878">50.000</text><text x="1561" y="907">20.000</text></g><rect x="1854" y="668" width="61" height="14" fill="#0000ff"/><text x="1859" y="679.5" font-family="Liberation Sans, sans-serif" font-size="12" fill="#fff">58.97</text><rect x="1854" y="899" width="61" height="14" fill="#ff0000"/><text x="1859" y="910.5" font-family="Liberation Sans, sans-serif" font-size="12" fill="#fff">17.916</text><rect x="1854" y="915" width="61" height="14" fill="#000"/><text x="1859" y="926.5" font-family="Liberation Sans, sans-serif" font-size="12" fill="#fff">10.405</text><g stroke="#fff" stroke-width="1" shape-rendering="crispEdges"><line x1="1854" y1="675.5" x2="1857" y2="675.5"/><line x1="1854" y1="906.5" x2="1857" y2="906.5"/><line x1="1854" y1="922.5" x2="1857" y2="922.5"/></g></svg></body></html>
